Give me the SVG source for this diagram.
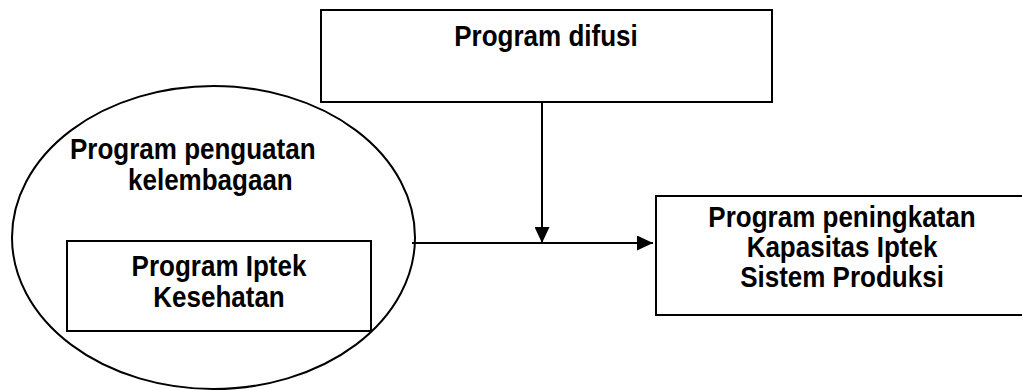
<svg xmlns="http://www.w3.org/2000/svg" width="1022" height="390" viewBox="0 0 1022 390">
<style>
.box{fill:#fff;stroke:#000;stroke-width:2}
.ell{fill:none;stroke:#000;stroke-width:2}
.t{font-family:"Liberation Sans",Arial,sans-serif;font-weight:bold;font-size:26px;fill:#000}
.c{text-anchor:middle}
.ln{stroke:#000;stroke-width:2;fill:none}
</style>
<defs>
<marker id="ah" markerWidth="16" markerHeight="15" refX="16" refY="7.5" orient="auto" markerUnits="userSpaceOnUse" viewBox="0 0 16 15">
<path d="M0,0 L16,7.5 L0,15 z" fill="#000"/>
</marker>
</defs>
<rect width="1022" height="390" fill="#fff"/>
<g id="node-difusi">
<rect class="box" x="321" y="10" width="451" height="92"/>
<text class="t c" transform="translate(546,46) scale(1,1.1)">Program difusi</text>
</g>
<g id="node-kelembagaan">
<ellipse class="ell" cx="213.5" cy="237.5" rx="201.5" ry="151.5"/>
<text class="t" transform="translate(70,159) scale(1,1.1)">Program penguatan</text>
<text class="t" transform="translate(128,190) scale(1,1.1)">kelembagaan</text>
</g>
<g id="node-kesehatan">
<rect class="box" x="67" y="241" width="304" height="90"/>
<text class="t c" transform="translate(219,276) scale(1,1.1)">Program Iptek</text>
<text class="t c" transform="translate(219,307) scale(1,1.1)">Kesehatan</text>
</g>
<g id="node-produksi">
<rect class="box" x="656" y="196" width="380" height="119"/>
<text class="t c" transform="translate(842,227) scale(1,1.1)">Program peningkatan</text>
<text class="t c" transform="translate(842,257) scale(1,1.1)">Kapasitas Iptek</text>
<text class="t c" transform="translate(842,287) scale(1,1.1)">Sistem Produksi</text>
</g>
<g id="connectors">
<line class="ln" x1="542" y1="102" x2="542" y2="243" marker-end="url(#ah)"/>
<line class="ln" x1="412" y1="243" x2="653" y2="243" marker-end="url(#ah)"/>
</g>
</svg>
